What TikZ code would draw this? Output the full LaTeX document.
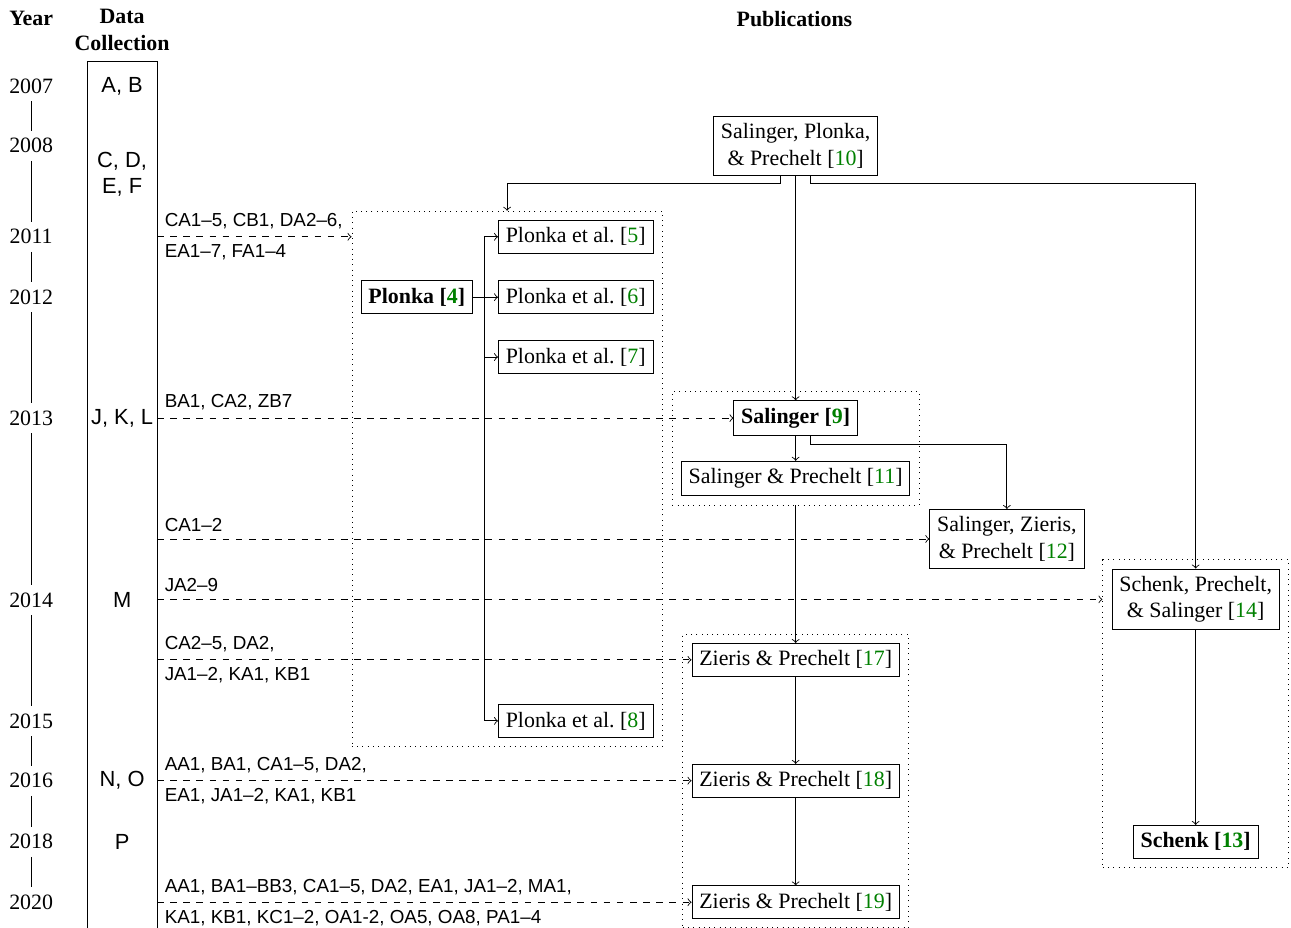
\documentclass[tikz,border=0pt]{standalone}
\usepackage{fontspec}
\setmainfont{Liberation Serif}
\setsansfont{Liberation Sans}
\usepackage{tikz}
\usetikzlibrary{fit}
\definecolor{citegreen}{rgb}{0,0.5,0}
\newcommand{\rn}[1]{[\textcolor{citegreen}{#1}]}
\tikzset{
    pub/.style={draw, align=center},
    group/.style={draw, dotted, inner sep=4pt},
    data/.style={->, dashed},
    dlabel/.style={font=\sffamily\fontsize{8.6}{10}\selectfont}}

\begin{document}
\begin{tikzpicture}

            \useasboundingbox (0,0) rectangle (20.72,-14.89);

            \node[font=\bfseries] (hY) at (0.5,-0.29) {Year};
            \node[font=\bfseries, align=center] (hD) at (1.96,-0.48) {Data\\Collection};
            \node[font=\bfseries] (hP) at (12.75,-0.30) {Publications};

            \node (y2007) at (0.5,-1.38) {2007};
            \node (y2008) at (0.5,-2.34) {2008};
            \node (y2011) at (0.5,-3.80) {2011};
            \node (y2012) at (0.5,-4.77) {2012};
            \node (y2013) at (0.5,-6.71) {2013};
            \node (y2014) at (0.5,-9.63) {2014};
            \node (y2015) at (0.5,-11.57) {2015};
            \node (y2016) at (0.5,-12.53) {2016};
            \node (y2018) at (0.5,-13.51) {2018};
            \node (y2020) at (0.5,-14.48) {2020};

            \draw (y2007) -- (y2008);
            \draw (y2008) -- (y2011);
            \draw (y2011) -- (y2012);
            \draw (y2012) -- (y2013);
            \draw (y2013) -- (y2014);
            \draw (y2014) -- (y2015);
            \draw (y2015) -- (y2016);
            \draw (y2016) -- (y2018);
            \draw (y2018) -- (y2020);

            \draw (1.40,-14.89) |- (2.52,-0.98) -- (2.52,-14.89);
            \coordinate (dc) at (2.52,-0.98);
            \node[font=\sffamily] (dAB) at (1.96,-1.38) {A, B};
            \node[font=\sffamily, align=center] (dCF) at (1.96,-2.80) {C, D,\\E, F};
            \node[font=\sffamily] (dJL) at (1.96,-6.71) {J, K, L};
            \node[font=\sffamily] (dM) at (1.96,-9.63) {M};
            \node[font=\sffamily] (dNO) at (1.96,-12.53) {N, O};
            \node[font=\sffamily] (dP) at (1.96,-13.51) {P};

            \node[pub] (p4) at (6.69,-4.77) {\textbf{Plonka \rn{4}}};
            \node[pub] (p5) at (9.24,-3.80) {Plonka et al.~\rn{5}};
            \node[pub] (p6) at (9.24,-4.77) {Plonka et al.~\rn{6}};
            \node[pub] (p7) at (9.24,-5.73) {Plonka et al.~\rn{7}};
            \node[pub] (p8) at (9.24,-11.57) {Plonka et al.~\rn{8}};
            \node[pub] (s10) at (12.77,-2.34) {Salinger, Plonka,\\\& Prechelt \rn{10}};
            \node[pub] (s9) at (12.77,-6.71) {\textbf{Salinger \rn{9}}};
            \node[pub] (s11) at (12.77,-7.68) {Salinger \& Prechelt \rn{11}};
            \node[pub] (s12) at (16.16,-8.65) {Salinger, Zieris,\\\& Prechelt \rn{12}};
            \node[pub] (s14) at (19.19,-9.62) {Schenk, Prechelt,\\\& Salinger \rn{14}};
            \node[pub] (s13) at (19.19,-13.51) {\textbf{Schenk \rn{13}}};
            \node[pub] (z17) at (12.77,-10.59) {Zieris \& Prechelt \rn{17}};
            \node[pub] (z18) at (12.77,-12.53) {Zieris \& Prechelt \rn{18}};
            \node[pub] (z19) at (12.77,-14.48) {Zieris \& Prechelt \rn{19}};

            \node[group, fit=(p4)(p5)(p8)] (P) {};
            \node[group, fit=(s9)(s11)] (S) {};
            \node[group, fit=(s14)(s13)] (T) {};
            \node[group, fit=(z17)(z19)] (Z) {};

            \draw[->] ([xshift=-0.24cm]s10.south) -- ++(0,-0.13) -| (P.north);
            \draw[->] (s10) -- (s9);
            \draw[->] ([xshift=0.24cm]s10.south) -- ++(0,-0.13) -| (s14.north);
            \draw[->] (s9) -- (s11);
            \draw[->] ([xshift=0.24cm]s9.south) -- ++(0,-0.14) -| (s12.north);
            \draw[->] (S) -- (z17);
            \draw[->] (z17) -- (z18);
            \draw[->] (z18) -- (z19);
            \draw[->] (s14) -- (s13);

            \draw[->] (p4.east) -- ++(0.19,0) |- (p5.west);
            \draw[->] (p4.east) -- ++(0.19,0) |- (p6.west);
            \draw[->] (p4.east) -- ++(0.19,0) |- (p7.west);
            \draw[->] (p4.east) -- ++(0.19,0) |- (p8.west);

            \draw[data] (dc |- p5) -- (P.west |- p5)
                node[pos=0, above right, dlabel] {CA1–5, CB1, DA2–6,}
                node[pos=0, below right, dlabel] {EA1–7, FA1–4};
            \draw[data] (dc |- s9.west) -- (s9.west)
                node[pos=0, above right, dlabel] {BA1, CA2, ZB7};
            \draw[data] (dc |- s12.west) -- (s12.west)
                node[pos=0, above right, dlabel] {CA1–2};
            \draw[data] (dc |- s14) -- (T.west |- s14)
                node[pos=0, above right, dlabel] {JA2–9};
            \draw[data] (dc |- z17.west) -- (z17.west)
                node[pos=0, above right, dlabel] {CA2–5, DA2,}
                node[pos=0, below right, dlabel] {JA1–2, KA1, KB1};
            \draw[data] (dc |- z18.west) -- (z18.west)
                node[pos=0, above right, dlabel] {AA1, BA1, CA1–5, DA2,}
                node[pos=0, below right, dlabel] {EA1, JA1–2, KA1, KB1};
            \draw[data] (dc |- z19.west) -- (z19.west)
                node[pos=0, above right, dlabel] {AA1, BA1–BB3, CA1–5, DA2, EA1, JA1–2, MA1,}
                node[pos=0, below right, dlabel] {KA1, KB1, KC1–2, OA1-2, OA5, OA8, PA1–4};

        \end{tikzpicture}
\end{document}
